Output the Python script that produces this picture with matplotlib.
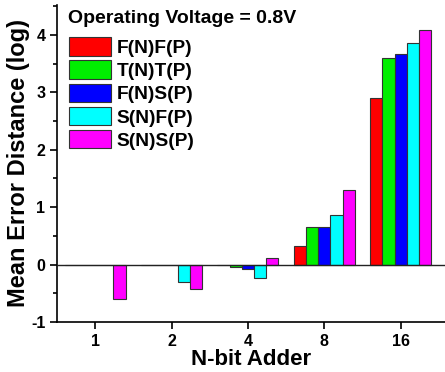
import matplotlib
matplotlib.use("Agg")
import matplotlib.pyplot as plt
from matplotlib.ticker import MultipleLocator
import numpy as np

plt.rcParams['font.family'] = ['Liberation Sans', 'DejaVu Sans']
plt.rcParams['font.weight'] = 'bold'
plt.rcParams['axes.unicode_minus'] = False

categories = ["1", "2", "4", "8", "16"]
series_names = ["F(N)F(P)", "T(N)T(P)", "F(N)S(P)", "S(N)F(P)", "S(N)S(P)"]
fnfp = [0.0, 0.0, 0.0, 0.32, 2.90]
tntp = [0.0, 0.0, -0.045, 0.65, 3.60]
fnsp = [0.0, 0.0, -0.075, 0.65, 3.66]
snfp = [0.0, -0.30, -0.23, 0.87, 3.85]
snsp = [-0.60, -0.43, 0.12, 1.30, 4.09]
series = [fnfp, tntp, fnsp, snfp, snsp]
colors = ["#ff0000", "#00ee00", "#0000ff", "#00ffff", "#ff00ff"]
title = "Operating Voltage = 0.8V"

fig = plt.figure(figsize=(4.45, 3.72), dpi=100)
ax = fig.add_axes([0.128, 0.1344, 0.872, 0.8522])

x = np.arange(len(categories))
w = 0.16
for i, (vals, c, name) in enumerate(zip(series, colors, series_names)):
    ax.bar(x + (i - 2) * w, vals, width=w, color=c, edgecolor="#333333",
           linewidth=0.8, label=name, zorder=2)

ax.axhline(0, color="#222222", linewidth=1.0, zorder=3)
ax.set_xlim(-0.5, 4.58)
ax.set_ylim(-1, 4.52)
ax.set_xticks(x)
ax.set_xticklabels(categories)
ax.yaxis.set_major_locator(MultipleLocator(1))
ax.yaxis.set_minor_locator(MultipleLocator(0.5))
ax.spines['top'].set_visible(False)
ax.spines['right'].set_visible(False)
for s in ('left', 'bottom'):
    ax.spines[s].set_linewidth(1.2)
ax.tick_params(axis='both', which='major', direction='out', length=4.8, width=1.2,
               labelsize=11.5, pad=3.5)
ax.tick_params(axis='y', which='minor', direction='out', length=3.2, width=1.2)
for lbl in ax.get_xticklabels() + ax.get_yticklabels():
    lbl.set_fontweight('bold')

ax.set_xlabel("N-bit Adder", fontsize=16, fontweight='bold', labelpad=0)
ax.set_ylabel("Mean Error Distance (log)", fontsize=17, fontweight='bold', labelpad=1)

ax.text(0.028, 0.983, title, transform=ax.transAxes, fontsize=14,
        fontweight='bold', va='top', ha='left')
leg = ax.legend(loc='upper left', bbox_to_anchor=(0.03, 0.898), frameon=False,
                fontsize=13.8, handlelength=2.2, handleheight=1.1,
                labelspacing=0.18, handletextpad=0.3, borderaxespad=0,
                borderpad=0)
for t in leg.get_texts():
    t.set_fontweight('bold')

fig.savefig("out.png", dpi=100)
